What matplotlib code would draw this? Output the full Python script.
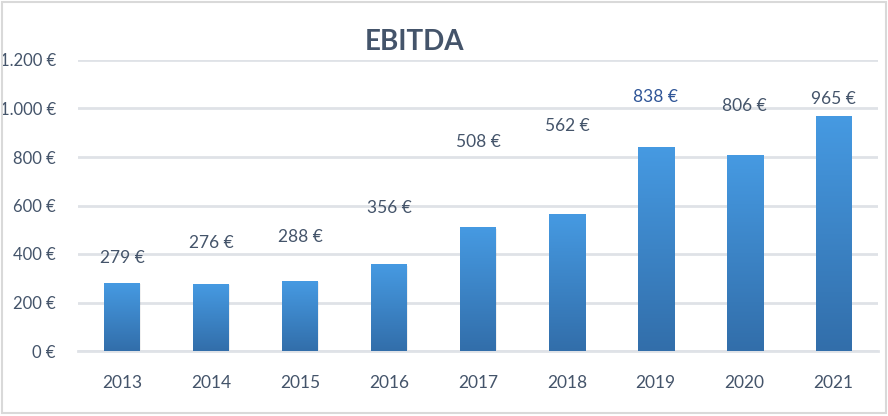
import numpy as np
import matplotlib.pyplot as plt
from matplotlib.patches import Rectangle

years = ["2013", "2014", "2015", "2016", "2017", "2018", "2019", "2020", "2021"]
ebitda = [279, 276, 288, 356, 508, 562, 838, 806, 965]
# data label heights as placed in the original chart (value units)
label_y = [383, 445, 470, 590, 862, 926, 1049, 1012, 1041]
label_colors = ["#44546A"] * 6 + ["#2F5597", "#44546A", "#44546A"]
y_ticks = [0, 200, 400, 600, 800, 1000, 1200]

plt.rcParams['font.family'] = ['Lato', 'DejaVu Sans']
text_col = "#44546A"
grid_col = "#DFE2E7"

fig = plt.figure(figsize=(8.88, 4.16), dpi=100)
ax = fig.add_axes([78 / 888, 65 / 416, 800 / 888, 291 / 416])

x = np.arange(len(years))
bar_w = 0.405
bars = ax.bar(x, ebitda, width=bar_w, color="none", zorder=3)

# vertical gradient for each bar (light blue top -> darker blue bottom)
top = np.array([0x46, 0x9A, 0xE2]) / 255
bot = np.array([0x32, 0x6E, 0xAA]) / 255
grad = np.linspace(0, 1, 256)[:, None]
img = (bot[None, None, :] * (1 - grad[..., None]) + top[None, None, :] * grad[..., None])
for b in bars:
    x0, w, h = b.get_x(), b.get_width(), b.get_height()
    # soft shadow
    ax.add_patch(Rectangle((x0 + 0.01, 0), w, h - 4, color="#000000", alpha=0.06,
                           lw=0, zorder=2.5))
    ax.imshow(img, extent=[x0, x0 + w, 0, h], origin="lower", aspect="auto",
              zorder=3, interpolation="bilinear")

for xi, v, ly, c in zip(x, ebitda, label_y, label_colors):
    ax.text(xi, ly, f"{v} €", ha="center", va="center", fontsize=12.5, color=c, zorder=4)

ax.set_xlim(-0.5, len(years) - 0.5)
ax.set_ylim(0, 1200)
ax.set_yticks(y_ticks)
ax.set_yticklabels([f"{t:,}".replace(",", ".") + " €" for t in y_ticks])
ax.set_xticks(x)
ax.set_xticklabels(years)
ax.tick_params(axis="both", length=0, labelsize=12.5, labelcolor=text_col)
ax.tick_params(axis="y", pad=16)
ax.tick_params(axis="x", pad=17)
for lab in ax.get_yticklabels():
    lab.set_fontsize(12)
ax.yaxis.grid(True, color=grid_col, lw=2, zorder=0)
ax.set_axisbelow(True)
for s in ["top", "right", "left"]:
    ax.spines[s].set_visible(False)
ax.spines["bottom"].set_color(grid_col)
ax.spines["bottom"].set_linewidth(2)

fig.text(414 / 888, 1 - 42 / 416, "EBITDA", ha="center", va="center",
         fontsize=20, fontweight="bold", color=text_col)

# chart border
fig.patches.append(Rectangle((2 / 888, 3 / 416), 884 / 888, 411 / 416, transform=fig.transFigure,
                             fill=False, edgecolor="#D9D9D9", lw=1.5))

fig.savefig("out.png", dpi=100)
